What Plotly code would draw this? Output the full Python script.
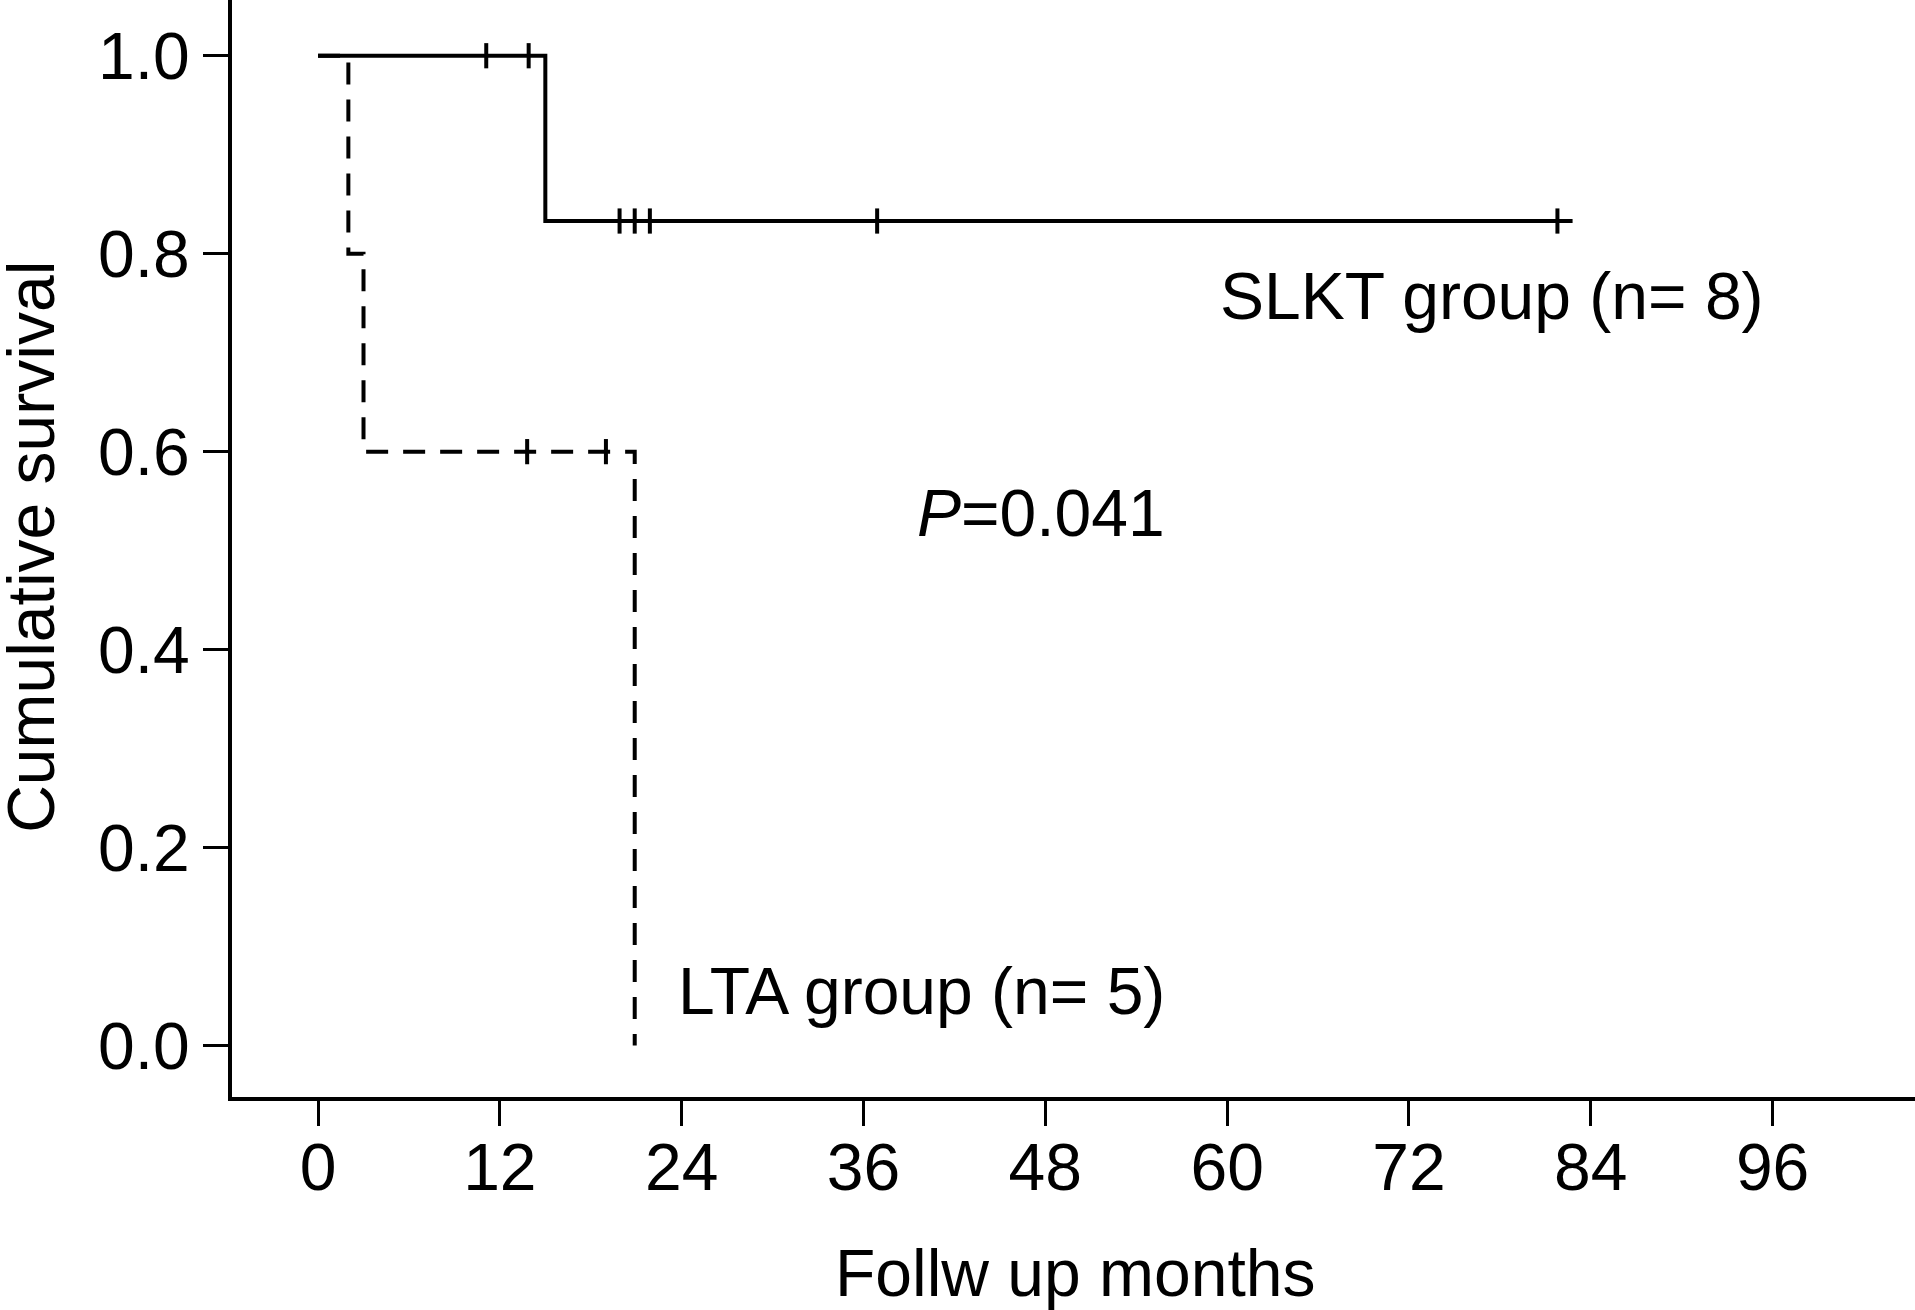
import plotly.graph_objects as go

# ---- data ----
slkt_step_t = [0, 15.0, 82.8]
slkt_step_s = [1.0, 0.833, 0.833]
slkt_censor_t = [11.1, 13.9, 19.9, 20.9, 21.9, 36.9, 81.8]
slkt_censor_s = [1.0, 1.0, 0.833, 0.833, 0.833, 0.833, 0.833]

lta_step_t = [0, 2.0, 3.0, 20.9]
lta_step_s = [1.0, 0.8, 0.6, 0.0]
lta_censor_t = [13.8, 19.0]
lta_censor_s = [0.6, 0.6]

x_ticks = [0, 12, 24, 36, 48, 60, 72, 84, 96]
y_ticks = [0.0, 0.2, 0.4, 0.6, 0.8, 1.0]
y_tick_labels = ["0.0", "0.2", "0.4", "0.6", "0.8", "1.0"]

FONT = "Liberation Sans, Arial, Helvetica, sans-serif"
FS = 66
LW = 4

fig = go.Figure()
fig.add_trace(go.Scatter(x=slkt_step_t, y=slkt_step_s, mode="lines", line_shape="hv",
                         line=dict(color="black", width=LW), hoverinfo="skip", showlegend=False))
fig.add_trace(go.Scatter(x=slkt_censor_t, y=slkt_censor_s, mode="markers",
                         marker=dict(symbol="line-ns", size=18, line=dict(color="black", width=4)),
                         showlegend=False))
fig.add_trace(go.Scatter(x=lta_step_t, y=lta_step_s, mode="lines", line_shape="hv",
                         line=dict(color="black", width=LW, dash="22px,15px"), hoverinfo="skip",
                         showlegend=False))
fig.add_trace(go.Scatter(x=lta_censor_t, y=lta_censor_s, mode="markers",
                         marker=dict(symbol="line-ns", size=18, line=dict(color="black", width=4)),
                         showlegend=False))

fig.update_layout(
    width=1915, height=1310,
    margin=dict(l=232, r=0, t=0, b=213, pad=0),
    paper_bgcolor="white", plot_bgcolor="white",
    font=dict(family=FONT, size=FS, color="black"),
    xaxis=dict(range=[-5.68, 105.4], tickvals=x_ticks, ticks="outside", ticklen=25, tickwidth=3,
               tickcolor="black", showline=True, linecolor="black", linewidth=LW,
               showgrid=False, zeroline=False, ticklabelstandoff=-15,
               tickfont=dict(family=FONT, size=FS)),
    yaxis=dict(range=[-0.052, 1.0563], tickvals=y_ticks, ticktext=y_tick_labels, ticks="outside",
               ticklen=25, tickwidth=3, tickcolor="black", showline=True, linecolor="black",
               linewidth=LW, showgrid=False, zeroline=False, ticklabelstandoff=0,
               tickfont=dict(family=FONT, size=FS)),
    annotations=[
        dict(text="SLKT group (n= 8)", x=59.4, y=0.757, xref="x", yref="y",
             xanchor="left", yanchor="middle", showarrow=False, font=dict(size=FS)),
        dict(text="<i>P</i>=0.041", x=39.4, y=0.5385, xref="x", yref="y",
             xanchor="left", yanchor="middle", showarrow=False, font=dict(size=FS)),
        dict(text="LTA group (n= 5)", x=23.6, y=0.055, xref="x", yref="y",
             xanchor="left", yanchor="middle", showarrow=False, font=dict(size=FS)),
        dict(text="Cumulative survival", x=-0.1195, y=0.5014, xref="paper", yref="paper",
             xanchor="center", yanchor="middle", textangle=-90, showarrow=False,
             font=dict(size=FS)),
        dict(text="Follw up months", x=0.5009, y=-0.1604, xref="paper", yref="paper",
             xanchor="center", yanchor="middle", showarrow=False, font=dict(size=FS)),
    ],
)

fig.write_html("out.html", config={"displayModeBar": False},
               post_script="document.body.style.margin='0';document.body.style.overflow='hidden';")
